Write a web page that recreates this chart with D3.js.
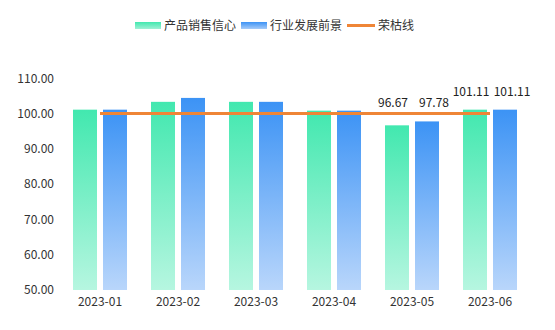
<!DOCTYPE html>
<html>
<head>
<meta charset="utf-8">
<script src="https://cdn.jsdelivr.net/npm/d3@7"></script>
<style>
  html, body { margin: 0; padding: 0; background: #fff; }
  svg { display: block; font-family: "Noto Sans CJK SC", "Noto Sans", sans-serif; }
</style>
</head>
<body>
<svg id="chart" width="555" height="330"></svg>
<script>
const categories = ["2023-01", "2023-02", "2023-03", "2023-04", "2023-05", "2023-06"];
const salesConfidence = [101.11, 103.33, 103.33, 100.83, 96.67, 101.11];
const industryOutlook = [101.11, 104.44, 103.33, 100.83, 97.78, 101.11];
const boomBustLine = [100, 100, 100, 100, 100, 100];
const yTicks = [50, 60, 70, 80, 90, 100, 110];
const labeledIndex = [4, 5];
const seriesNames = ["产品销售信心", "行业发展前景", "荣枯线"];

const svg = d3.select("#chart");
const x = d3.scaleBand().domain(categories).range([61, 529]);
const y = d3.scaleLinear().domain([50, 110]).range([290, 78.3]);

const defs = svg.append("defs");
function grad(id, top, bottom) {
  const g = defs.append("linearGradient").attr("id", id)
    .attr("x1", 0).attr("y1", 0).attr("x2", 0).attr("y2", 1);
  g.append("stop").attr("offset", "0%").attr("stop-color", top);
  g.append("stop").attr("offset", "100%").attr("stop-color", bottom);
}
grad("gGreen", "#42E8AF", "#B6F6E0");
grad("gBlue", "#3C93F5", "#B9D6FB");
const gl = defs.append("linearGradient").attr("id", "gGreenH")
  .attr("x1", 0).attr("y1", 0).attr("x2", 0).attr("y2", 1);
gl.append("stop").attr("offset", "0%").attr("stop-color", "#42E8AF");
gl.append("stop").attr("offset", "100%").attr("stop-color", "#9FF1D5");
const bl = defs.append("linearGradient").attr("id", "gBlueH")
  .attr("x1", 0).attr("y1", 0).attr("x2", 0).attr("y2", 1);
bl.append("stop").attr("offset", "0%").attr("stop-color", "#3C93F5");
bl.append("stop").attr("offset", "100%").attr("stop-color", "#A6CBF9");

const barW = 24, gap = 3;
const center = c => x(c) + x.bandwidth() / 2;

// y axis labels
const yAxis = d3.axisLeft(y).tickValues(yTicks).tickFormat(d3.format(".2f")).tickSize(0).tickPadding(0);
const ya = svg.append("g").attr("transform", "translate(54,0)").call(yAxis);
ya.select(".domain").remove();
ya.selectAll("text").attr("fill", "#333").style("font-size", "12px")
  .style("font-family", "\"Noto Sans CJK SC\", sans-serif");

// x axis labels
const xAxis = d3.axisBottom(x).tickSize(0).tickPadding(0);
const xa = svg.append("g").attr("transform", "translate(0,297)").call(xAxis);
xa.select(".domain").remove();
xa.selectAll("text").attr("fill", "#333").style("font-size", "12px")
  .style("font-family", "\"Noto Sans CJK SC\", sans-serif");

// bars
svg.append("g").selectAll("rect").data(categories).join("rect")
  .attr("x", (c) => center(c) - gap - barW)
  .attr("y", (c, i) => y(salesConfidence[i]))
  .attr("width", barW)
  .attr("height", (c, i) => y(50) - y(salesConfidence[i]))
  .attr("fill", "url(#gGreen)");
svg.append("g").selectAll("rect").data(categories).join("rect")
  .attr("x", (c) => center(c) + gap)
  .attr("y", (c, i) => y(industryOutlook[i]))
  .attr("width", barW)
  .attr("height", (c, i) => y(50) - y(industryOutlook[i]))
  .attr("fill", "url(#gBlue)");

// boom-bust line
const line = d3.line().x((d, i) => center(categories[i])).y(d => y(d));
svg.append("path").datum(boomBustLine).attr("d", line)
  .attr("fill", "none").attr("stroke", "#EF8536").attr("stroke-width", 3);

// value labels
const lbl = svg.append("g").style("font-size", "12px").attr("fill", "#222")
  .attr("text-anchor", "middle");
labeledIndex.forEach(i => {
  const c = categories[i];
  lbl.append("text").attr("x", center(c) - gap - barW / 2 - 4)
    .attr("y", Math.min(y(salesConfidence[i]), y(industryOutlook[i])) - 14)
    .text(d3.format(".2f")(salesConfidence[i]));
  lbl.append("text").attr("x", center(c) + gap + barW / 2 + 7)
    .attr("y", Math.min(y(salesConfidence[i]), y(industryOutlook[i])) - 14)
    .text(d3.format(".2f")(industryOutlook[i]));
});

// legend
const lg = svg.append("g").style("font-size", "12px").attr("fill", "#333");
lg.append("rect").attr("x", 135).attr("y", 22).attr("width", 26).attr("height", 7).attr("fill", "url(#gGreenH)");
lg.append("text").attr("x", 164).attr("y", 30).text(seriesNames[0]);
lg.append("rect").attr("x", 241).attr("y", 22).attr("width", 26).attr("height", 7).attr("fill", "url(#gBlueH)");
lg.append("text").attr("x", 270).attr("y", 30).text(seriesNames[1]);
lg.append("line").attr("x1", 347).attr("x2", 375).attr("y1", 25.5).attr("y2", 25.5)
  .attr("stroke", "#EF8536").attr("stroke-width", 3);
lg.append("text").attr("x", 378).attr("y", 30).text(seriesNames[2]);
</script>
</body>
</html>
